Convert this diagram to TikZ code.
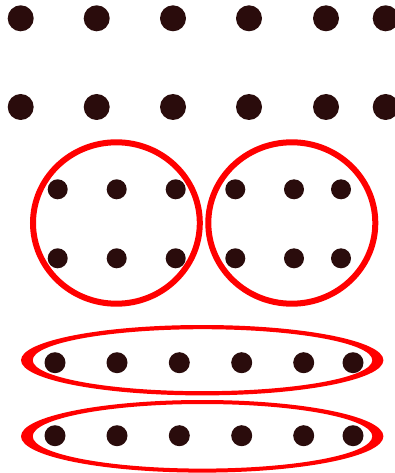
\documentclass[tikz,border=0pt]{standalone}
\usepackage{tikz}
\definecolor{dotbrown}{RGB}{42,12,12}
\definecolor{ringred}{RGB}{255,0,0}

\begin{document}
\begin{tikzpicture}[x=1pt, y=-1pt,
  bigdot/.style={circle, fill=dotbrown, inner sep=0pt, minimum size=26pt},
  smalldot/.style={circle, fill=dotbrown, inner sep=0pt, minimum size=20pt},
  rowdot/.style={circle, fill=dotbrown, inner sep=0pt, minimum size=21pt},
  ring/.style={draw=ringred, line width=6pt}]
\useasboundingbox (0,0) rectangle (395,473);
% Top two rows
\foreach \x [count=\i] in {20.7,96.7,173,249,326,385.7} {
  \node[bigdot] (t\i) at (\x,18.3) {};
  \node[bigdot] (u\i) at (\x,107) {};
}
% Two circled groups
\draw[ring] (116.4,223) ellipse [x radius=83.4, y radius=80.7];
\draw[ring] (291.8,223) ellipse [x radius=83.5, y radius=80.7];
\foreach \x [count=\i] in {57.7,116.7,175.7,235.3,294,341} {
  \node[smalldot] (g\i) at (\x,189.3) {};
  \node[smalldot] (h\i) at (\x,258.3) {};
}
% Two rows in ellipses
\fill[ringred, even odd rule] (202.2,360.2) ellipse [x radius=181.2, y radius=35.2]
  (202.5,360.2) ellipse [x radius=169.8, y radius=31];
\fill[ringred, even odd rule] (202.2,436.3) ellipse [x radius=181.2, y radius=36.3]
  (202.5,436.3) ellipse [x radius=169.8, y radius=32.3];
\foreach \x [count=\i] in {55,117,179.3,241.7,303.7,353} {
  \node[rowdot] (p\i) at (\x,362.7) {};
  \node[rowdot] (q\i) at (\x,435.7) {};
}
\end{tikzpicture}
\end{document}
